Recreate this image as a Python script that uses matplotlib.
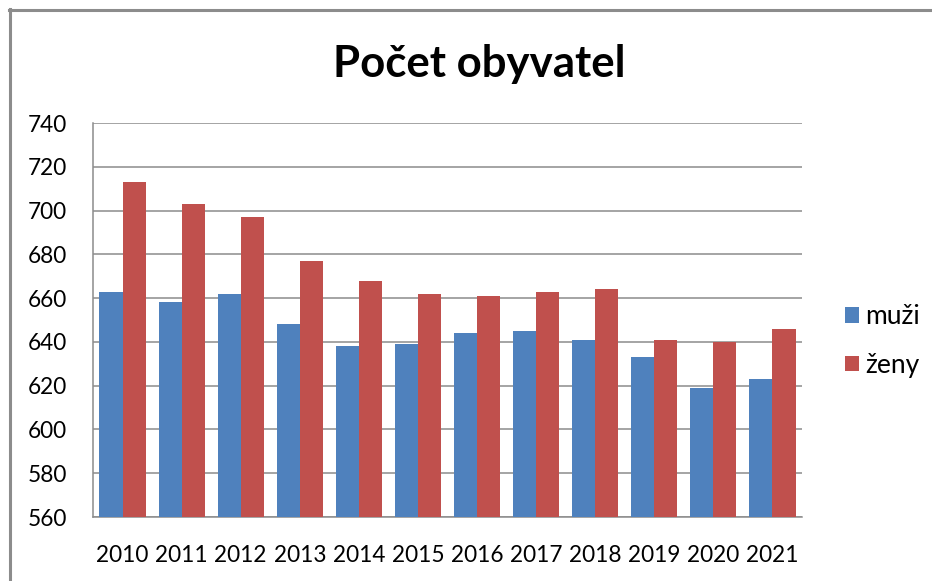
import matplotlib.pyplot as plt
import numpy as np

years = ["2010", "2011", "2012", "2013", "2014", "2015",
         "2016", "2017", "2018", "2019", "2020", "2021"]
muzi = [663, 658, 662, 648, 638, 639, 644, 645, 641, 633, 619, 623]
zeny = [713, 703, 697, 677, 668, 662, 661, 663, 664, 641, 640, 646]

plt.rcParams["font.family"] = ["Lato", "DejaVu Sans"]

W, H = 932, 581
fig = plt.figure(figsize=(W / 100, H / 100), dpi=100)

# outer chart frame (only top-left corner is visible in the crop)
frame_kw = dict(transform=fig.transFigure, color="#8c8c8c", lw=2.2)
fig.add_artist(plt.Line2D([10 / W, 10 / W], [0, 1 - 9 / H], **frame_kw))
fig.add_artist(plt.Line2D([9 / W, 1], [1 - 10 / H, 1 - 10 / H], **frame_kw))

ax = fig.add_axes([93 / W, 64 / H, 709 / W, 394 / H])

x = np.arange(len(years))
w = 0.39
ax.bar(x - w / 2, muzi, w, color="#4F81BD", label="muži", zorder=3)
ax.bar(x + w / 2, zeny, w, color="#C0504D", label="ženy", zorder=3)

ax.set_xlim(-0.5, len(years) - 0.5)
ax.set_ylim(560, 740)
ax.set_yticks(np.arange(560, 741, 20))
ax.set_xticks(x)
ax.set_xticklabels(years)
ax.tick_params(axis="both", length=0, labelsize=16.3, colors="black")
ax.tick_params(axis="y", pad=19)
ax.tick_params(axis="x", pad=20)

ax.grid(axis="y", color="#8c8c8c", lw=1.1, zorder=0)
for s in ["top", "right"]:
    ax.spines[s].set_visible(False)
for s in ["left", "bottom"]:
    ax.spines[s].set_color("#8c8c8c")
    ax.spines[s].set_linewidth(1.1)

fig.text(479 / W, 1 - 77 / H, "Počet obyvatel", ha="center", va="baseline",
         fontsize=31.5, fontweight="bold")

ax.legend(loc="center left", bbox_to_anchor=(845 / W, 1 - 341 / H),
          bbox_transform=fig.transFigure, frameon=False, fontsize=19,
          handlelength=0.53, handleheight=0.53, handletextpad=0.25,
          labelspacing=0.9, borderpad=0, borderaxespad=0)

fig.savefig("out.png", dpi=100)
